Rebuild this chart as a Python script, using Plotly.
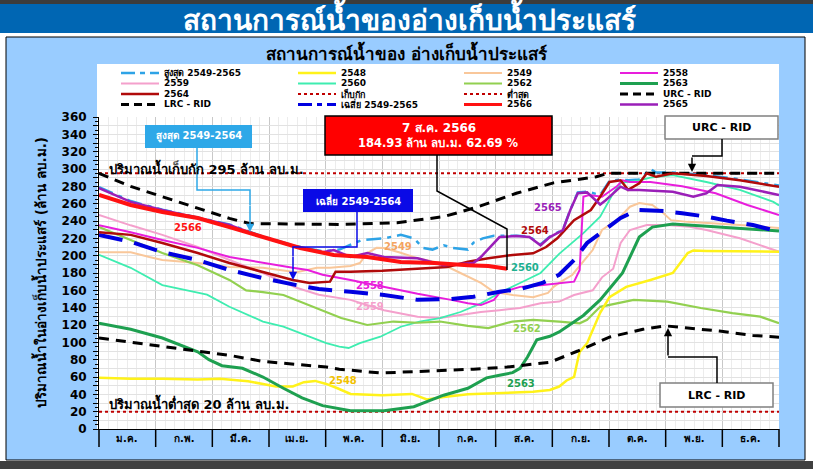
import plotly.graph_objects as go

# ---------------- data ----------------
MONTHS = ["ม.ค.", "ก.พ.", "มี.ค.", "เม.ย.", "พ.ค.", "มิ.ย.", "ก.ค.", "ส.ค.", "ก.ย.", "ต.ค.", "พ.ย.", "ธ.ค."]
Y_TICKS = list(range(0, 361, 10))
STORAGE_LEVEL = 295
MIN_LEVEL = 20

MAX_D = [0, 17, 34, 53, 70, 88, 106, 120, 129, 141, 153, 162, 169, 174, 179, 185, 190, 198, 201, 206, 212, 224, 231, 237, 242, 249, 253, 257, 262, 269, 274, 280, 284, 290, 294, 296, 299, 308, 326, 344, 365]
MAX_V = [279, 263, 253, 244, 236, 222, 211, 205, 207, 218, 220, 224, 220, 209, 207, 212, 209, 207, 215, 220, 223, 223, 222, 213, 222, 230, 253, 273, 274, 270, 286, 288, 287, 288, 296, 300, 296, 296, 293, 288, 281]

Y2548_D = [0, 17, 34, 53, 65, 80, 88, 95, 104, 110, 116, 122, 128, 135, 152, 168, 176, 185, 198, 233, 242, 247, 251, 255, 257, 258, 262, 269, 274, 283, 296, 305, 308, 316, 319, 326, 365]
Y2548_V = [59, 58, 58, 57, 58, 55, 52, 49, 49, 54, 55.5, 52, 47, 40.5, 39, 40.5, 34, 37, 40, 43, 45, 49, 56, 60, 80, 89, 99, 134, 152, 164, 172, 178, 180, 203, 206, 205.5, 204.5]

Y2549_D = [0, 17, 27, 34, 53, 70, 88, 106, 117, 124, 135, 140, 144, 149, 153, 161, 171, 183, 194, 205, 212, 222, 233, 241, 244, 248, 254, 265, 270, 278, 285, 290, 297, 303, 307, 316, 344, 365]
Y2549_V = [204, 204, 198.5, 195, 191.5, 187, 186, 181, 186, 186, 188, 191.5, 203, 209, 208.8, 204, 197, 191.5, 180, 168.5, 158, 154.6, 152, 157, 164, 170, 177.7, 206.5, 229.6, 241, 256.5, 260.8, 258.5, 249, 241, 239, 235.4, 232]

Y2558_D = [0, 17, 34, 53, 70, 88, 104, 112, 120, 135, 153, 171, 189, 198, 205, 212, 215, 226, 237, 247, 255, 258, 260, 263, 270, 278, 281, 285, 296, 313, 331, 348, 365]
Y2558_V = [235, 227, 218, 209, 198.5, 191.5, 186, 183.5, 178, 172, 164, 156, 149, 145, 143, 149, 157, 164, 166, 168.5, 170, 183.5, 268, 270, 268, 280, 287, 285, 285, 280, 272, 258.5, 247]

Y2559_D = [0, 17, 34, 53, 70, 88, 106, 118, 135, 153, 171, 183, 194, 205, 215, 226, 237, 247, 255, 265, 270, 276, 280, 285, 294, 305, 317, 326, 344, 365]
Y2559_V = [247, 235, 224, 210, 195, 180, 163, 155, 149, 137, 129.6, 128, 131.5, 135, 137, 139.6, 145, 147, 154.6, 160, 175, 185, 214.6, 229.6, 235.4, 235.4, 233.4, 229.6, 220, 204.6]

Y2560_D = [0, 17, 34, 58, 70, 88, 99, 110, 122, 129, 134, 140, 151, 162, 172, 183, 194, 205, 215, 226, 237, 247, 260, 269, 276, 280, 290, 296, 308, 326, 344, 362, 365]
Y2560_V = [201, 186, 166, 155, 141, 124, 118, 108.5, 99, 95, 93.5, 99, 106.5, 118, 124, 128, 135, 145, 157, 168.5, 180, 202, 226, 245, 272, 284, 287, 290, 293, 285, 276, 262, 258]

Y2562_D = [0, 17, 34, 53, 70, 79, 88, 99, 110, 119, 130, 144, 158, 171, 183, 198, 209, 222, 233, 247, 258, 262, 269, 287, 305, 323, 340, 355, 365]
Y2562_V = [233, 218, 203, 189, 172, 160, 158, 154.6, 145, 137, 128, 120, 124, 122.6, 124, 119, 116.5, 124, 126, 124, 122, 126, 141, 149, 147, 139.6, 133.8, 129.6, 122]

Y2563_D = [0, 17, 34, 53, 59, 66, 77, 88, 99, 109, 120, 135, 153, 169, 176, 185, 198, 208, 215, 222, 226, 230, 233, 235, 242, 247, 260, 269, 276, 281, 290, 297, 308, 326, 344, 365]
Y2563_V = [122, 115, 105, 89, 80, 73, 70, 60, 47, 36, 27, 21, 21, 25.7, 31.5, 39, 47, 59, 62, 65, 70, 83, 95, 103, 107, 112, 131, 149, 167, 180, 221.5, 233, 236.5, 234, 231.5, 228.5]

Y2564_D = [0, 17, 34, 53, 70, 88, 104, 113, 124, 127, 135, 152, 171, 187, 198, 209, 222, 233, 240, 246, 255, 264, 269, 274, 280, 284, 290, 294, 299, 308, 326, 344, 365]
Y2564_V = [227, 224, 214.6, 203, 191.5, 181, 172, 168.5, 170, 181.5, 181.5, 182.6, 185.4, 187, 193, 197, 200.8, 202.7, 210, 220, 241, 252.7, 268, 285, 287, 276, 283.5, 295, 291, 295, 292, 287, 279.6]

Y2565_D = [0, 17, 34, 53, 70, 88, 106, 120, 126, 135, 144, 153, 171, 185, 194, 201, 205, 210, 215, 224, 231, 237, 242, 249, 253, 257, 262, 269, 272, 280, 284, 290, 308, 319, 326, 332, 344, 365]
Y2565_V = [278, 262, 252.7, 243.5, 235.4, 221.5, 210, 204, 206.5, 198.5, 203, 198.5, 197, 189, 190.4, 191.5, 198.5, 210, 221.5, 222.7, 221.5, 212, 221.5, 229.6, 252.7, 272, 273, 259, 264, 279.6, 275.8, 275.8, 273.8, 268, 272, 281.5, 279.6, 270]

Y2566_D = [0, 17, 34, 53, 70, 88, 108, 126, 144, 162, 180, 198, 209, 219]
Y2566_V = [270, 258.5, 250.4, 243.5, 233, 221.5, 208.8, 200.8, 198.5, 192.7, 191.5, 189, 188, 184.93]

AVG_D = [0, 17, 34, 53, 70, 88, 106, 118, 135, 153, 171, 189, 201, 215, 226, 238, 247, 255, 262, 271, 280, 289, 303, 313, 326, 337, 351, 365]
AVG_V = [224, 216, 204, 195, 183.5, 174, 166, 161.5, 158.4, 154.6, 149, 150, 152.6, 158.4, 161.5, 168.5, 178, 195, 214.6, 229.6, 243.5, 252.7, 251.5, 249, 245, 240.4, 235.4, 227.7]

URC_D = [0, 17, 34, 53, 70, 81, 130, 160, 185, 203, 224, 244, 267, 273, 365]
URC_V = [295, 280, 268, 255, 243, 237, 236, 238, 245, 256, 272, 284, 291, 295, 295]

LRC_D = [0, 17, 34, 53, 70, 88, 106, 122, 129, 151, 179, 201, 219, 242, 257, 274, 292, 304, 316, 333, 351, 365]
LRC_V = [105, 100, 95, 90, 85, 78, 75, 71.5, 69, 64.6, 67, 69, 71.5, 77, 90, 106, 115, 119, 116.5, 113, 108, 106]

YEAR_END = 365

# ---------------- geometry helpers (pixel -> paper) ----------------
W, H = 813, 469
L, R, T, B = 99, 779, 117, 429


def px(x):
    return (x - L) / (R - L)


def py(y):
    return (B - y) / (B - T)


FONT = "DejaVu Sans, Noto Sans, sans-serif"

STYLE = {
    "max": dict(color="#2EA3E6", width=2.5, dash="15px,6px,4px,6px"),
    "2548": dict(color="#FFF21A", width=2.5, dash="solid"),
    "2549": dict(color="#F9C79A", width=2, dash="solid"),
    "2558": dict(color="#E81EDC", width=2, dash="solid"),
    "2559": dict(color="#F4A0CC", width=2, dash="solid"),
    "2560": dict(color="#3EEDB0", width=1.8, dash="solid"),
    "2562": dict(color="#92D050", width=2.2, dash="solid"),
    "2563": dict(color="#1EA050", width=3, dash="solid"),
    "2564": dict(color="#B00A0A", width=2.5, dash="solid"),
    "store": dict(color="#C00000", width=2, dash="dot"),
    "min": dict(color="#C00000", width=2, dash="dot"),
    "urc": dict(color="black", width=3, dash="10px,7px"),
    "lrc": dict(color="black", width=3, dash="10px,7px"),
    "avg": dict(color="#0000E0", width=4, dash="24px,12px"),
    "2566": dict(color="#FF1111", width=4, dash="solid"),
    "2565": dict(color="#9A1FB8", width=2.5, dash="solid"),
}

fig = go.Figure()


def add(key, d, v, name):
    s = STYLE[key]
    fig.add_trace(go.Scatter(x=d, y=v, mode="lines", name=name,
                             line=dict(color=s["color"], width=s["width"], dash=s["dash"]),
                             hoverinfo="skip"))


add("store", [0, YEAR_END], [STORAGE_LEVEL, STORAGE_LEVEL], "เก็บกัก")
add("min", [0, YEAR_END], [MIN_LEVEL, MIN_LEVEL], "ต่ำสุด")
add("max", MAX_D, MAX_V, "สูงสุด 2549-2565")
add("2549", Y2549_D, Y2549_V, "2549")
add("2559", Y2559_D, Y2559_V, "2559")
add("2560", Y2560_D, Y2560_V, "2560")
add("2562", Y2562_D, Y2562_V, "2562")
add("2548", Y2548_D, Y2548_V, "2548")
add("2563", Y2563_D, Y2563_V, "2563")
add("2558", Y2558_D, Y2558_V, "2558")
add("avg", AVG_D, AVG_V, "เฉลี่ย 2549-2565")
add("lrc", LRC_D, LRC_V, "LRC - RID")
add("urc", URC_D, URC_V, "URC - RID")
add("2564", Y2564_D, Y2564_V, "2564")
add("2565", Y2565_D, Y2565_V, "2565")
add("2566", Y2566_D, Y2566_V, "2566")

shapes = []
ann = []


def rect(x0, y0, x1, y1, fill, line=None, lw=1, layer="below"):
    shapes.append(dict(type="rect", xref="paper", yref="paper", x0=px(x0), y0=py(y1), x1=px(x1), y1=py(y0),
                       fillcolor=fill, line=dict(color=line or fill, width=lw if line else 0), layer=layer))


def path(points, color, width=1.5, dash="solid"):
    p = "M " + " L ".join(f"{px(a):.5f} {py(b):.5f}" for a, b in points)
    shapes.append(dict(type="path", xref="paper", yref="paper", path=p,
                       line=dict(color=color, width=width, dash=dash), layer="above"))


def arrow(x_head, y_head, x_tail, y_tail, color, width=1.5):
    ann.append(dict(xref="paper", yref="paper", x=px(x_head), y=py(y_head), text="",
                    showarrow=True, ax=x_tail - x_head, ay=y_tail - y_head,
                    arrowhead=2, arrowsize=1.1, arrowwidth=width, arrowcolor=color, standoff=0, startstandoff=0))


def text(x, y, s, size, color="black", bold=True, xanchor="center", angle=0, xref="paper", yref="paper"):
    ann.append(dict(xref=xref, yref=yref,
                    x=px(x) if xref == "paper" else x, y=py(y) if yref == "paper" else y,
                    text=f"<b>{s}</b>" if bold else s, showarrow=False, xanchor=xanchor, yanchor="middle",
                    textangle=angle, font=dict(family=FONT, size=size, color=color)))


# page background pieces
rect(0, 0, 813, 4, "#3C3C3C")
rect(0, 4, 813, 33, "#0066B3")
rect(0, 461, 813, 469, "#404040")
rect(6, 37, 805, 460, "#99CCFF", line="black", lw=1)
rect(97, 64, 779, 429, "white")

# titles
text(409, 18, "สถานการณ์น้ำของอ่างเก็บน้ำประแสร์", 28, color="white")
text(407, 52, "สถานการณ์น้ำของ อ่างเก็บน้ำประแสร์", 17)
text(40, 273, "ปริมาณน้ำในอ่างเก็บน้ำประแสร์ (ล้าน ลบ.ม.)", 13.5, angle=-90)

# month labels and separators below the axis
for k, m in enumerate(MONTHS):
    ann.append(dict(xref="x", yref="paper", x=(k + 0.5) * YEAR_END / 12, y=py(438.5), text=f"<b>{m}</b>",
                    showarrow=False, yanchor="middle", font=dict(family=FONT, size=10, color="black")))
for k in range(13):
    x = L + k * (R - L) / 12
    shapes.append(dict(type="line", xref="paper", yref="paper", x0=px(x), x1=px(x), y0=py(429), y1=py(447),
                       line=dict(color="black", width=1.5), layer="above"))

# legend (manual, 4 columns x 4 rows)
LEG = [
    [("max", "สูงสุด 2549-2565"), ("2559", "2559"), ("2564", "2564"), ("lrc", "LRC - RID")],
    [("2548", "2548"), ("2560", "2560"), ("store", "เก็บกัก"), ("avg", "เฉลี่ย 2549-2565")],
    [("2549", "2549"), ("2562", "2562"), ("min", "ต่ำสุด"), ("2566", "2566")],
    [("2558", "2558"), ("2563", "2563"), ("urc", "URC - RID"), ("2565", "2565")],
]
COL_X = [121, 298, 464, 620]
ROW_Y = [73, 83.5, 94, 104.5]
for ci, col in enumerate(LEG):
    for ri, (key, label) in enumerate(col):
        s = STYLE[key]
        x0 = COL_X[ci]
        y = ROW_Y[ri]
        dash = s["dash"]
        if key in ("avg", "max"):
            dash = "14px,5px,5px,5px"
        elif key in ("urc", "lrc"):
            dash = "8px,5px"
        shapes.append(dict(type="line", xref="paper", yref="paper", x0=px(x0), x1=px(x0 + 38), y0=py(y), y1=py(y),
                           line=dict(color=s["color"], width=min(s["width"], 3), dash=dash), layer="above"))
        text(x0 + 41, y, label, 9, xanchor="left")

# reference level captions
text(107, 168, "ปริมาณน้ำเก็บกัก 295 ล้าน ลบ.ม.", 13, xanchor="left")
text(107, 403, "ปริมาณน้ำต่ำสุด 20 ล้าน ลบ.ม.", 13, xanchor="left")

# curve labels (data coords)
CURVE_LABELS = [
    ("2566", 47.8, 233, "#FF1111"), ("2549", 160.5, 211, "#F4A460"), ("2564", 234, 228.5, "#B00A0A"),
    ("2565", 241, 256, "#9A1FB8"), ("2560", 228.7, 185.8, "#20B090"), ("2558", 145.5, 166, "#E81EDC"),
    ("2559", 145.5, 140.8, "#F4A0CC"), ("2562", 229.8, 116.5, "#92D050"), ("2548", 131, 56.5, "#F2C200"),
    ("2563", 226.5, 52, "#1EA050"),
]
for s, x, y, c in CURVE_LABELS:
    ann.append(dict(xref="x", yref="y", x=x, y=y, text=f"<b>{s}</b>", showarrow=False,
                    font=dict(family=FONT, size=10, color=c)))

# callout: max
rect(145, 125, 252, 148, "#2EA8E8", layer="above")
text(198.5, 136.5, "สูงสุด 2549-2564", 10, color="white")
path([(197, 148), (197, 190), (250, 190), (250, 205)], "#2EA8E8", 1.5)
arrow(250, 232, 250, 204, "#2EA8E8", 1.5)

# callout: average
rect(303, 189, 413, 212, "#0A0AE6", layer="above")
text(358, 200.5, "เฉลี่ย 2549-2564", 10, color="white")
path([(357, 212), (357, 247), (293, 247), (293, 256)], "#0A0AE6", 1.5)
arrow(293, 280, 293, 255, "#0A0AE6", 1.5)

# callout: current value
rect(325, 116, 552, 155, "#FF0000", line="black", lw=1.5, layer="above")
text(438.5, 128, "7 ส.ค. 2566", 12, color="white")
text(438.5, 143, "184.93 ล้าน ลบ.ม. 62.69 %", 11.5, color="white")
path([(437, 155), (437, 191), (507, 229), (507, 270)], "black", 1.5)

# callout: URC
rect(665, 116, 778, 139, "white", line="#808080", lw=1.5, layer="above")
text(721.5, 127.5, "URC - RID", 11)
path([(722, 139), (722, 156), (692, 156)], "black", 1.5)
arrow(692, 172, 692, 156, "black", 1.5)

# callout: LRC
rect(660, 383, 773, 407, "white", line="#808080", lw=1.5, layer="above")
text(716.5, 395, "LRC - RID", 11)
path([(717, 383), (717, 357), (668, 357)], "black", 1.5)
arrow(668, 328, 668, 357, "black", 1.5)

fig.update_layout(
    width=W, height=H,
    margin=dict(l=L, r=W - R, t=T, b=H - B, pad=0),
    paper_bgcolor="white", plot_bgcolor="rgba(0,0,0,0)",
    showlegend=False,
    shapes=shapes, annotations=ann,
    xaxis=dict(range=[0, YEAR_END], tickmode="array",
               tickvals=[k * YEAR_END / 12 for k in range(13)], ticktext=[""] * 13,
               showgrid=True, gridcolor="#C8C8C8", gridwidth=1, zeroline=False,
               showline=True, linecolor="black", linewidth=1, ticks="",
               minor=dict(tickmode="linear", tick0=0, dtick=YEAR_END / 72, showgrid=True,
                          gridcolor="#ECECEC", gridwidth=1)),
    yaxis=dict(range=[0, 360], tickmode="array", tickvals=Y_TICKS,
               ticktext=[str(v) if v % 20 == 0 else "" for v in Y_TICKS],
               showgrid=True, gridcolor="#E2E2E2", gridwidth=1, zeroline=False,
               showline=True, linecolor="black", linewidth=1,
               ticks="outside", ticklen=5, tickcolor="black",
               tickfont=dict(family=FONT, size=12, color="black", weight="bold"),
               ticklabelstandoff=4,
               minor=dict(tickmode="linear", tick0=0, dtick=5, ticks="outside", ticklen=3,
                          tickcolor="black", showgrid=False)),
)

fig.write_html("out.html", config={"displayModeBar": False},
               post_script="document.body.style.margin='0px';document.body.style.overflow='hidden';")
